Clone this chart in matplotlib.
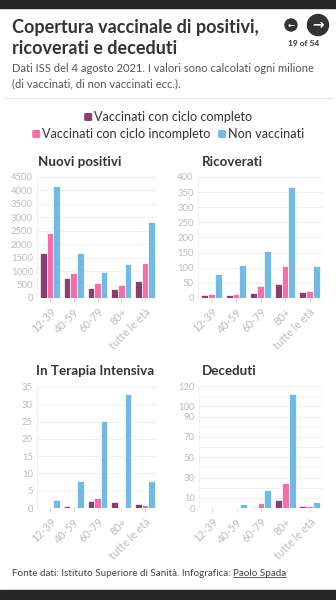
import matplotlib
matplotlib.use("Agg")
import matplotlib.pyplot as plt
import numpy as np
from matplotlib.patches import Rectangle, Circle, FancyBboxPatch
from matplotlib.lines import Line2D

plt.rcParams['font.family'] = ['Lato', 'DejaVu Sans']

categories = ["12-39", "40-59", "60-79", "80+", "tutte le età"]
series_names = ["Vaccinati con ciclo completo", "Vaccinati con ciclo incompleto", "Non vaccinati"]
colors = ["#8E3B6E", "#EE72AA", "#74B9E0"]

positivi_completo = [1670, 740, 370, 333, 630]
positivi_incompleto = [2430, 912, 555, 493, 1320]
positivi_non = [4155, 1665, 950, 1258, 2836]

ricoverati_completo = [11, 9, 18, 47, 20]
ricoverati_incompleto = [14, 14, 41, 105, 22]
ricoverati_non = [79, 108, 154, 368, 106]

ti_completo = [0, 0.7, 1.9, 1.6, 1.2]
ti_incompleto = [0, 0.4, 2.9, 0, 0.9]
ti_non = [2.4, 7.9, 25.1, 32.9, 7.9]

deceduti_completo = [0, 0, 1.0, 7.5, 2.0]
deceduti_incompleto = [0, 0, 4.6, 24.5, 1.6]
deceduti_non = [0.1, 3.9, 17.6, 112.4, 6.2]

W, H = 336, 600
fig = plt.figure(figsize=(W / 100, H / 100), dpi=100)
fig.patch.set_facecolor("white")

def fx(x): return x / W
def fy(y): return 1 - y / H

# dark bars top and bottom
fig.patches.append(Rectangle((0, fy(8)), 1, 8 / H, transform=fig.transFigure, color="#262626", zorder=0))
fig.patches.append(Rectangle((0, 0), 1, 10 / H, transform=fig.transFigure, color="#262626", zorder=0))

# title
fig.text(fx(12), fy(27), "Copertura vaccinale di positivi,", fontsize=13.0, fontweight="bold",
         color="#333333", va="center", ha="left")
fig.text(fx(12), fy(49), "ricoverati e deceduti", fontsize=13.0, fontweight="bold",
         color="#333333", va="center", ha="left")
fig.text(fx(12), fy(68), "Dati ISS del 4 agosto 2021. I valori sono calcolati ogni milione",
         fontsize=8.0, color="#555555", va="center", ha="left")
fig.text(fx(12), fy(84), "(di vaccinati, di non vaccinati ecc.).",
         fontsize=8.0, color="#555555", va="center", ha="left")

# nav buttons
ax_nav = fig.add_axes([0, 0, 1, 1], facecolor="none")
ax_nav.set_xlim(0, W)
ax_nav.set_ylim(H, 0)
ax_nav.axis("off")
ax_nav.add_patch(Circle((291, 25), 6, color="#333333"))
ax_nav.add_patch(Circle((318, 25), 10.5, color="#333333"))
ax_nav.text(291, 25.5, "←", color="white", fontsize=6, ha="center", va="center", fontweight="bold",
            family="DejaVu Sans")
ax_nav.text(318, 25.5, "→", color="white", fontsize=10, ha="center", va="center", fontweight="bold",
            family="DejaVu Sans")
ax_nav.text(304, 44, "19 of 54", fontsize=6, fontweight="bold", color="#333333", ha="center", va="center")
ax_nav.add_line(Line2D([3, 333], [98, 98], color="#E6E6E6", lw=0.8))

fig.canvas.draw()
r = fig.canvas.get_renderer()
inv = ax_nav.transData.inverted()

# legend (manual, centered rows)
LEG_FS = 9.1
SQ = 8
GAP_SQ = 1.5
GAP_ITEM = 8

def text_width(label, fs):
    t = ax_nav.text(0, 0, label, fontsize=fs)
    bb = t.get_window_extent(r)
    t.remove()
    return bb.width  # pixels == data units here

def legend_row(items, y, cx=168):
    widths = [SQ + GAP_SQ + text_width(series_names[i], LEG_FS) for i in items]
    total = sum(widths) + GAP_ITEM * (len(items) - 1)
    x = cx - total / 2
    for i, w in zip(items, widths):
        ax_nav.add_patch(FancyBboxPatch((x, y - SQ / 2), SQ, SQ, boxstyle="round,pad=0,rounding_size=1.5",
                                        color=colors[i], lw=0))
        ax_nav.text(x + SQ + GAP_SQ, y, series_names[i], fontsize=LEG_FS, color="#333333",
                    ha="left", va="center")
        x += w + GAP_ITEM

legend_row([0], 117)
legend_row([1, 2], 134)

# footer
ft = ax_nav.text(12, 573, "Fonte dati: Istituto Superiore di Sanità. Infografica: ", fontsize=7.1,
                 color="#444444", ha="left", va="center")
fig.canvas.draw()
bb = ft.get_window_extent(r)
xd = inv.transform((bb.x1, bb.y0))[0]
pt = ax_nav.text(xd, 573, "Paolo Spada", fontsize=7.1, color="#444444", ha="left", va="center")
fig.canvas.draw()
bb2 = pt.get_window_extent(r)
x0d = inv.transform((bb2.x0, bb2.y0))
x1d = inv.transform((bb2.x1, bb2.y0))
ax_nav.add_line(Line2D([x0d[0], x1d[0]], [x0d[1] - 0.5, x1d[1] - 0.5], color="#444444", lw=0.6))

panels = [
    ("Nuovi positivi", [positivi_completo, positivi_incompleto, positivi_non], (37, 177, 158, 298),
     4500, list(range(0, 4501, 500)), None),
    ("Ricoverati", [ricoverati_completo, ricoverati_incompleto, ricoverati_non], (198, 177, 323, 298),
     400, list(range(0, 401, 50)), None),
    ("In Terapia Intensiva", [ti_completo, ti_incompleto, ti_non], (37, 387, 158, 508),
     35, list(range(0, 36, 5)), None),
    ("Deceduti", [deceduti_completo, deceduti_incompleto, deceduti_non], (199, 386, 323, 508),
     120, list(range(0, 121, 10)), [0, 10, 30, 50, 70, 90, 100, 120]),
]

title_pos = {"Nuovi positivi": (38, 162, "left"), "Ricoverati": (202, 162, "left"),
             "In Terapia Intensiva": (95, 371, "center"), "Deceduti": (202, 371, "left")}

for name, data, (x0, y0, x1, y1), ymax, ticks, labeled in panels:
    ax = fig.add_axes([fx(x0), fy(y1), fx(x1) - fx(x0), (y1 - y0) / H])
    x = np.arange(len(categories))
    bw = 0.28
    for i, (vals, c) in enumerate(zip(data, colors)):
        ax.bar(x + (i - 1) * bw, vals, width=bw, color=c, edgecolor="white", linewidth=0.5, zorder=3)
    ax.set_xlim(-0.55, len(categories) - 0.45)
    ax.set_ylim(0, ymax)
    ax.set_yticks(ticks)
    if labeled is None:
        ax.set_yticklabels([str(t) for t in ticks])
    else:
        ax.set_yticklabels([str(t) if t in labeled else "" for t in ticks])
    ax.set_xticks(x)
    ax.set_xticklabels(categories, rotation=45, ha="right", rotation_mode="anchor")
    ax.tick_params(axis="both", colors="#BBBBBB", labelcolor="#BDBDBD", labelsize=6.8, length=0, pad=3)
    ax.tick_params(axis="x", length=3, color="#DDDDDD", pad=3, labelsize=7.8)
    ax.grid(axis="y", color="#EEEEEE", lw=0.6, zorder=0)
    for s in ["top", "right", "bottom"]:
        ax.spines[s].set_visible(False)
    ax.spines["left"].set_color("#EEEEEE")
    ax.spines["left"].set_linewidth(0.6)
    tx, ty, ha = title_pos[name]
    fig.text(fx(tx), fy(ty), name, fontsize=9.6, fontweight="bold", color="#333333", ha=ha, va="center")

fig.savefig("out.png", dpi=100, facecolor="white")
